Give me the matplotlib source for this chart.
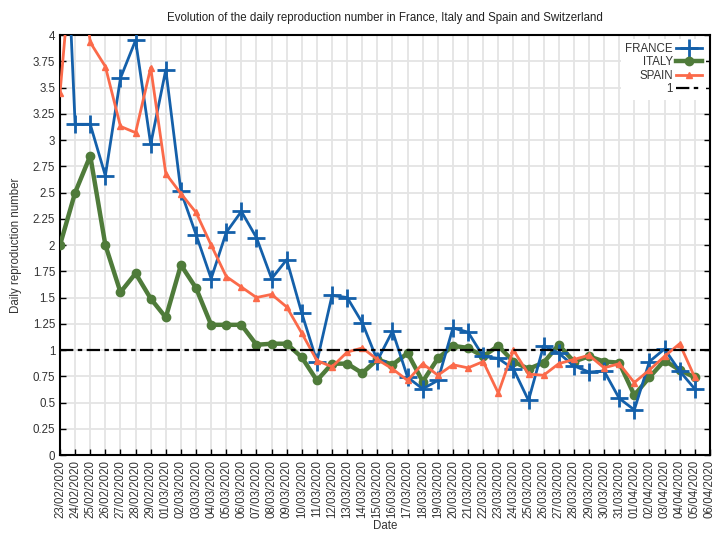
import numpy as np
import pandas as pd
import matplotlib
matplotlib.use("Agg")
import matplotlib.pyplot as plt
from matplotlib.ticker import MultipleLocator, FormatStrFormatter

plt.rcParams['font.family'] = ['Liberation Sans', 'DejaVu Sans']

# Дати (підписи осі X)
dates = pd.date_range('2020-02-23', '2020-04-06').strftime('%d/%m/%Y').tolist()

# Значення R по країнах
france = [6.4, 3.15, 3.15, 2.66, 3.59, 3.95, 2.96, 3.67, 2.51, 2.10, 1.68, 2.12, 2.32, 2.07,
          1.68, 1.86, 1.35, 0.89, 1.52, 1.50, 1.26, 0.90, 1.18, 0.74, 0.63, 0.71, 1.21, 1.17,
          0.94, 0.92, 0.82, 0.52, 1.04, 0.97, 0.85, 0.79, 0.80, 0.54, 0.43, 0.89, 1.01, 0.80, 0.63]
italy = [2.00, 2.50, 2.85, 2.00, 1.55, 1.73, 1.49, 1.31, 1.81, 1.59, 1.24, 1.24, 1.24, 1.05,
         1.06, 1.06, 0.93, 0.71, 0.87, 0.87, 0.78, 0.91, 0.86, 0.97, 0.70, 0.92, 1.04, 1.02,
         0.94, 1.04, 0.89, 0.82, 0.88, 1.05, 0.89, 0.94, 0.89, 0.88, 0.57, 0.74, 0.90, 0.81, 0.74]
spain = [3.45, 5.1, 3.93, 3.70, 3.13, 3.07, 3.69, 2.68, 2.49, 2.31, 2.00, 1.70, 1.60, 1.50,
         1.53, 1.41, 1.16, 0.90, 0.84, 0.98, 1.02, 0.91, 0.82, 0.71, 0.87, 0.76, 0.86, 0.83,
         0.89, 0.59, 1.00, 0.77, 0.76, 0.87, 0.91, 0.95, 0.83, 0.87, 0.69, 0.81, 0.94, 1.06, 0.74]
threshold = 1

x = np.arange(len(france))
fs = 8.3

fig = plt.figure(figsize=(7.12, 5.35), dpi=100)
ax = fig.add_axes([0.0843, 0.1495, 0.9127, 0.785])

ax.plot(x, italy, color='#4f7b3a', lw=3.2, marker='o', ms=6, label='ITALY', zorder=3)
ax.plot(x, france, color='#1460aa', lw=2, marker='+', ms=13, mew=2, label='FRANCE', zorder=4)
ax.plot(x, spain, color='#fb6a4a', lw=2, marker='^', ms=4, label='SPAIN', zorder=5)
ax.axhline(threshold, color='black', lw=1.6, ls=(0, (6, 2, 2, 2)), label='1', zorder=6)

ax.set_xlim(0, len(dates) - 1)
ax.set_ylim(0, 4)
ax.set_xticks(np.arange(len(dates)))
ax.set_xticklabels(dates, rotation=90, fontsize=fs, color='#333333')
ax.yaxis.set_major_locator(MultipleLocator(0.25))
ax.yaxis.set_major_formatter(FormatStrFormatter('%g'))
ax.tick_params(axis='y', labelsize=fs, labelcolor='#333333')
ax.tick_params(direction='in', length=4, width=1, right=True, top=False)

ax.grid(True, color='#e4e4e4', lw=1.3, zorder=0)
ax.set_axisbelow(True)
for s in ax.spines.values():
    s.set_linewidth(1.5)

ax.set_title('Evolution of the daily reproduction number in France, Italy and Spain and Switzerland',
             fontsize=fs, color='#222222', pad=10)
ax.set_xlabel('Date', fontsize=fs, color='#333333', labelpad=1)
ax.set_ylabel('Daily reproduction number', fontsize=fs, color='#333333', labelpad=8)

h, l = ax.get_legend_handles_labels()
order = [1, 0, 2, 3]
leg = ax.legend([h[i] for i in order], [l[i] for i in order], loc='upper right',
                markerfirst=False, frameon=True, fontsize=fs, handlelength=2.2,
                labelspacing=0.12, borderaxespad=0.3, handletextpad=0.3)
leg.get_frame().set_edgecolor('none')
leg.get_frame().set_facecolor('white')
leg.get_frame().set_alpha(1)
for t in leg.get_texts():
    t.set_color('#333333')

fig.savefig('out.png', dpi=100)
